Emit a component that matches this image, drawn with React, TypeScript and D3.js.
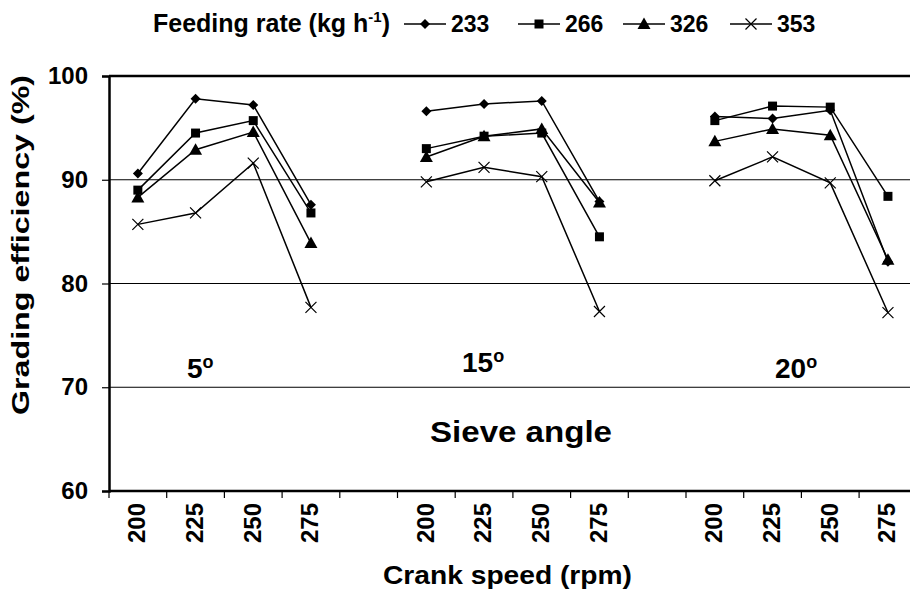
import React, { useRef, useEffect } from 'react';
import * as d3 from 'd3';

const angles = ['5', '15', '20'];
const speeds = ['200', '225', '250', '275'];
const rates = ['233', '266', '326', '353'];
const markers = ['diamond', 'square', 'triangle', 'cross'];

// efficiency (%) per angle group, 4 crank speeds each
const eff233 = [90.6, 97.8, 97.2, 87.6, 96.6, 97.3, 97.6, 87.9, 96.1, 95.9, 96.7, 82.1];
const eff266 = [89.0, 94.5, 95.7, 86.8, 93.0, 94.2, 94.5, 84.5, 95.7, 97.1, 97.0, 88.4];
const eff326 = [88.3, 92.9, 94.6, 83.9, 92.2, 94.2, 94.9, 87.8, 93.7, 94.9, 94.3, 82.3];
const eff353 = [85.7, 86.8, 91.6, 77.7, 89.8, 91.2, 90.3, 77.3, 89.9, 92.2, 89.7, 77.2];
const series = [eff233, eff266, eff326, eff353];

const yTicks = [60, 70, 80, 90, 100];
const FONT = "Arial, 'Liberation Sans', Helvetica, sans-serif";

function markerPath(type: string) {
  switch (type) {
    case 'diamond': return 'M0,-5L5,0L0,5L-5,0Z';
    case 'square': return 'M-4.5,-4.5H4.5V4.5H-4.5Z';
    case 'triangle': return 'M0,-6.5L6.5,5L-6.5,5Z';
    default: return 'M-5.5,-5.5L5.5,5.5M-5.5,5.5L5.5,-5.5';
  }
}

export default function App() {
  const svgRef = useRef<SVGSVGElement>(null);

  useEffect(() => {
    const svg = d3.select(svgRef.current);
    svg.selectAll('*').remove();

    const width = 910;
    const height = 603;
    const left = 109;
    const top = 76;
    const bottom = 491;

    // categories, with an empty slot between angle groups
    const cats: string[] = [];
    angles.forEach((a, gi) => {
      speeds.forEach(s => cats.push(`${a}|${s}`));
      if (gi < angles.length - 1) cats.push(`gap${gi}`);
    });

    const x = d3.scaleBand<string>()
      .domain(cats)
      .range([left, left + cats.length * 57.7]);

    const y = d3.scaleLinear()
      .domain([60, 100])
      .range([bottom, top]);

    svg.attr('width', width).attr('height', height)
      .style('font-family', FONT)
      .style('font-weight', 'bold');

    // gridlines
    svg.append('g')
      .selectAll('line')
      .data(yTicks.filter(t => t > 60 && t < 100))
      .enter()
      .append('line')
      .attr('x1', left)
      .attr('x2', width)
      .attr('y1', d => y(d))
      .attr('y2', d => y(d))
      .attr('stroke', '#000')
      .attr('stroke-width', 1);

    svg.append('line')
      .attr('x1', left).attr('x2', width)
      .attr('y1', y(100)).attr('y2', y(100))
      .attr('stroke', '#000').attr('stroke-width', 2.5);

    // y axis
    const yAxis = svg.append('g')
      .attr('transform', `translate(${left},0)`)
      .call(d3.axisLeft(y).tickValues(yTicks).tickSize(7).tickPadding(14));
    yAxis.select('.domain').attr('stroke-width', 2.5);
    yAxis.selectAll('.tick line').attr('stroke-width', 1.2);
    yAxis.selectAll('.tick text')
      .attr('font-size', 24)
      .attr('font-family', FONT)
      .attr('font-weight', 'bold')
      .attr('fill', '#000');

    // x axis line and ticks at category boundaries
    svg.append('line')
      .attr('x1', left).attr('x2', width)
      .attr('y1', bottom).attr('y2', bottom)
      .attr('stroke', '#000').attr('stroke-width', 2.5);

    svg.append('g')
      .selectAll('line')
      .data(d3.range(cats.length + 1))
      .enter()
      .append('line')
      .attr('x1', i => left + i * x.step())
      .attr('x2', i => left + i * x.step())
      .attr('y1', bottom)
      .attr('y2', bottom + 7)
      .attr('stroke', '#000')
      .attr('stroke-width', 1.2);

    svg.append('g')
      .selectAll('text')
      .data(cats.filter(c => !c.startsWith('gap')))
      .enter()
      .append('text')
      .attr('transform', c => `translate(${(x(c) as number) + x.bandwidth() / 2 - 1},${bottom + 12}) rotate(-90)`)
      .attr('text-anchor', 'end')
      .attr('dy', '0.35em')
      .attr('font-size', 24)
      .text(c => c.split('|')[1]);

    // series
    const line = d3.line<[string, number]>()
      .x(d => (x(d[0]) as number) + x.bandwidth() / 2)
      .y(d => y(d[1]));

    series.forEach((vals, si) => {
      const g = svg.append('g');
      angles.forEach((a, gi) => {
        const pts: [string, number][] = speeds.map((s, k) => [`${a}|${s}`, vals[gi * 4 + k]]);
        g.append('path')
          .datum(pts)
          .attr('d', line)
          .attr('fill', 'none')
          .attr('stroke', '#000')
          .attr('stroke-width', 1.5);
        g.selectAll(null)
          .data(pts)
          .enter()
          .append('path')
          .attr('transform', d => `translate(${(x(d[0]) as number) + x.bandwidth() / 2},${y(d[1])})`)
          .attr('d', markerPath(markers[si]))
          .attr('fill', markers[si] === 'cross' ? 'none' : '#000')
          .attr('stroke', '#000')
          .attr('stroke-width', markers[si] === 'cross' ? 1.2 : 0);
      });
    });

    // angle labels
    const angleLabelPos = [[187, 378], [462, 372], [775, 378]];
    angles.forEach((a, i) => {
      const t = svg.append('text')
        .attr('x', angleLabelPos[i][0])
        .attr('y', angleLabelPos[i][1])
        .attr('font-size', 28);
      t.append('tspan').text(a);
      t.append('tspan').attr('dy', -10).attr('font-size', 18).text('o');
    });

    svg.append('text')
      .attr('x', 430).attr('y', 442)
      .attr('font-size', 29)
      .attr('textLength', 182)
      .attr('lengthAdjust', 'spacingAndGlyphs')
      .text('Sieve angle');

    // axis titles
    svg.append('text')
      .attr('x', 383).attr('y', 584)
      .attr('font-size', 26)
      .attr('textLength', 249)
      .attr('lengthAdjust', 'spacingAndGlyphs')
      .text('Crank speed (rpm)');

    svg.append('text')
      .attr('transform', `translate(29,${245 + 170}) rotate(-90)`)
      .attr('font-size', 23)
      .attr('textLength', 340)
      .attr('lengthAdjust', 'spacingAndGlyphs')
      .text('Grading efficiency (%)');

    // legend
    const lt = svg.append('text')
      .attr('x', 153).attr('y', 32)
      .attr('font-size', 25);
    lt.append('tspan').text('Feeding rate (kg h');
    lt.append('tspan').attr('dy', -10).attr('font-size', 15).text('-1');
    lt.append('tspan').attr('dy', 10).text(')');

    const legendX = [404, 518, 623, 730];
    rates.forEach((r, i) => {
      const g = svg.append('g').attr('transform', `translate(${legendX[i]},24)`);
      g.append('line').attr('x1', 0).attr('x2', 42)
        .attr('stroke', '#000').attr('stroke-width', 1.5);
      g.append('path')
        .attr('transform', 'translate(21,0)')
        .attr('d', markerPath(markers[i]))
        .attr('fill', markers[i] === 'cross' ? 'none' : '#000')
        .attr('stroke', '#000')
        .attr('stroke-width', markers[i] === 'cross' ? 1.2 : 0);
      g.append('text')
        .attr('x', 47).attr('y', 8)
        .attr('font-size', 23)
        .text(r);
    });
  }, []);

  return (
    <div style={{ position: 'absolute', left: 0, top: 0 }}>
      <svg ref={svgRef} style={{ display: 'block' }} />
    </div>
  );
}
